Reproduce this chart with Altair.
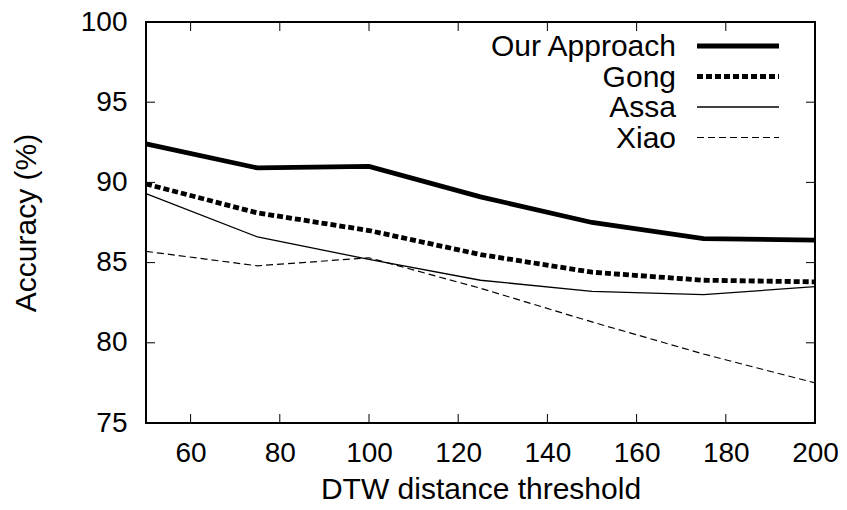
import altair as alt
import pandas as pd

# ---- data ----
thresholds = [50, 75, 100, 125, 150, 175, 200]
our_approach = [92.4, 90.9, 91.0, 89.1, 87.5, 86.5, 86.4]
gong = [89.9, 88.1, 87.0, 85.5, 84.4, 83.9, 83.8]
assa = [89.3, 86.6, 85.2, 83.9, 83.2, 83.0, 83.5]
xiao = [85.7, 84.8, 85.3, 83.4, 81.3, 79.3, 77.5]

series_names = ["Our Approach", "Gong", "Assa", "Xiao"]
series_values = [our_approach, gong, assa, xiao]

x_ticks = [60, 80, 100, 120, 140, 160, 180, 200]
y_ticks = [75, 80, 85, 90, 95, 100]

# ---- styles ----
W, H = 669, 401
FONT = "Liberation Sans"
widths = [4.8, 4.8, 1.3, 1.2]
dashes = [None, [6, 3], None, [7, 4]]
TICK = 9

xscale = alt.Scale(domain=[50, 200], nice=False, zero=False)
yscale = alt.Scale(domain=[75, 100], nice=False, zero=False)

xaxis = alt.Axis(values=x_ticks, tickSize=0, domain=False, grid=False,
                 labelFontSize=28, labelPadding=16, labelFont=FONT, labelColor="black",
                 title="DTW distance threshold", titleFont=FONT, titleFontSize=30,
                 titleFontWeight="normal", titleColor="black",
                 titleX=W / 2, titleY=75, titleBaseline="alphabetic", titleAlign="center",
                 labelFlush=False)
yaxis = alt.Axis(values=y_ticks, tickSize=0, domain=False, grid=False,
                 labelFontSize=28, labelPadding=19, labelFont=FONT, labelColor="black",
                 title="Accuracy (%)", titleFont=FONT, titleFontSize=30,
                 titleFontWeight="normal", titleColor="black",
                 titleX=-111, titleY=H / 2, titleBaseline="alphabetic", titleAlign="center",
                 titleAngle=270)

layers = []
for i, (name, vals) in enumerate(zip(series_names, series_values)):
    df = pd.DataFrame({"x": thresholds, "y": vals, "series": name})
    kw = dict(color="black", strokeWidth=widths[i], strokeCap="butt", strokeJoin="miter")
    if dashes[i]:
        kw["strokeDash"] = dashes[i]
    layers.append(
        alt.Chart(df).mark_line(**kw).encode(
            x=alt.X("x:Q", scale=xscale, axis=xaxis),
            y=alt.Y("y:Q", scale=yscale, axis=yaxis),
        )
    )

# inward ticks on all four sides
xt = pd.DataFrame({"v": x_ticks})
yt = pd.DataFrame({"v": y_ticks})
for (y0, y1) in [(H, H - TICK), (0, TICK)]:
    layers.append(alt.Chart(xt).mark_rule(color="black", strokeWidth=1).encode(
        x=alt.X("v:Q", scale=xscale, axis=xaxis), y=alt.value(y0), y2=alt.value(y1)))
for (x0, x1) in [(0, TICK), (W, W - TICK)]:
    layers.append(alt.Chart(yt).mark_rule(color="black", strokeWidth=1).encode(
        y=alt.Y("v:Q", scale=yscale, axis=yaxis), x=alt.value(x0), x2=alt.value(x1)))

# legend (labels right-aligned to the left of line samples)
for i, name in enumerate(series_names):
    ld = pd.DataFrame({"name": [name]})
    yy = 24 + i * 30.5
    layers.append(alt.Chart(ld).mark_text(align="right", baseline="middle", font=FONT,
                                          fontSize=30, color="black", dy=1).encode(
        text="name:N", x=alt.value(530), y=alt.value(yy)))
    kw = dict(color="black", strokeWidth=widths[i], strokeCap="butt")
    if dashes[i]:
        kw["strokeDash"] = dashes[i]
    layers.append(alt.Chart(ld).mark_rule(**kw).encode(
        x=alt.value(551), x2=alt.value(633), y=alt.value(yy)))

chart = alt.layer(*layers).properties(
    width=W, height=H,
    autosize=alt.AutoSizeParams(type="none"),
    padding={"left": 138, "top": 14, "right": 24, "bottom": 79},
    background="white",
).configure_view(stroke="black", strokeWidth=2)

chart.save("out.html", embed_options={"renderer": "svg", "actions": False})
